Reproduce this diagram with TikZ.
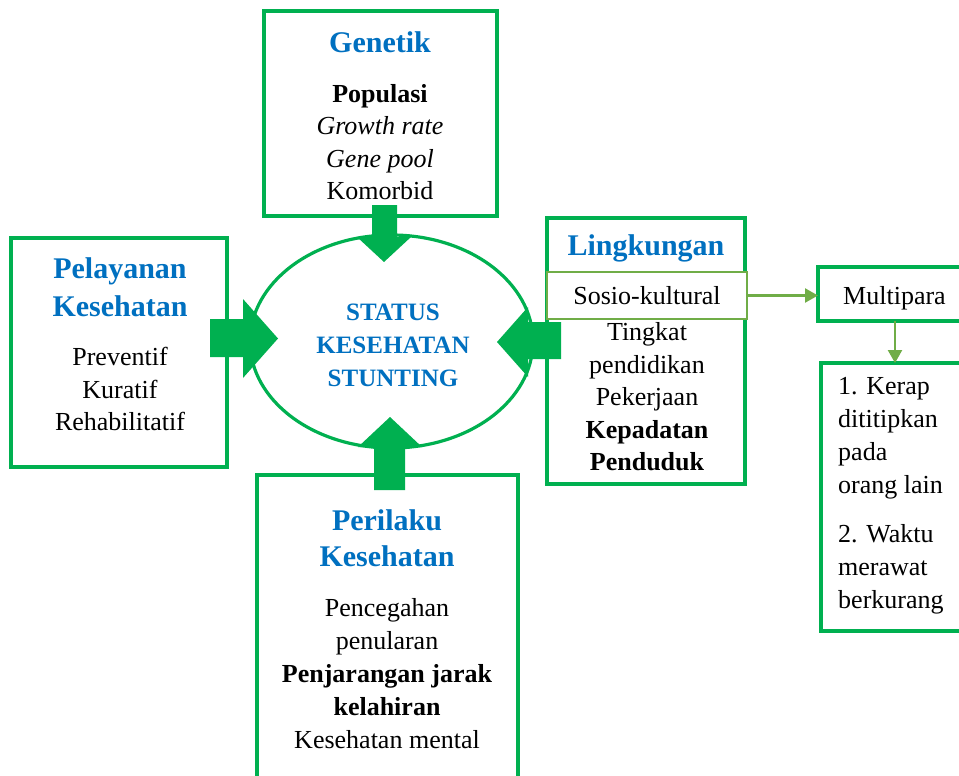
\documentclass[tikz,border=0pt]{standalone}
\usepackage{fontspec}
\setmainfont{Liberation Serif}
\usetikzlibrary{shapes.geometric,arrows.meta}
\definecolor{gbox}{HTML}{00B050}
\definecolor{lgreen}{HTML}{70AD47}
\definecolor{tblue}{HTML}{0070C0}
\begin{document}
\begin{tikzpicture}[x=1pt,y=-1pt,
  gframe/.style={draw=gbox,line width=3.2pt,fill=white},
  ttl/.style={text=tblue,font=\fontsize{30}{38}\selectfont\bfseries,align=center,inner sep=0pt},
  body/.style={font=\fontsize{26}{32.5}\selectfont,align=center,inner sep=0pt},
  blockarrow/.style={fill=gbox},
  lconn/.style={draw=lgreen,line width=2.4pt,-{Triangle[length=13pt,width=14pt]}}]
\useasboundingbox (0,0) rectangle (959,776);
\clip (0,0) rectangle (959,776);
\fill[white] (0,0) rectangle (959,776);

% boxes
\draw[gframe] (264,11) rectangle (497,216);
\coordinate (genS) at (384,216);
\draw[gframe] (11,238) rectangle (227,467);
\draw[gframe] (547,218) rectangle (745,484);
\draw[gframe] (257,475) rectangle (518,800);
\node[draw=lgreen,line width=1.6pt,fill=white,minimum width=200pt,minimum height=47pt,inner sep=0pt,font=\fontsize{26}{32}\selectfont] (sosio) at (647,295.5) {Sosio-kultural};
\draw[gframe] (818,267) rectangle (985,321);
\node[body] (multi) at (894.5,298) {Multipara};
\coordinate (multiS) at (895,321);
\draw[gframe] (821,363) rectangle (985,631);
\coordinate (listN) at (895,363);
\coordinate (multiW) at (818,295.5);

% ellipse
\node[ellipse,draw=gbox,line width=3.2pt,fill=white,minimum width=283pt,minimum height=213pt,inner sep=0pt] (status) at (391.5,341.5) {};
\node[text=tblue,font=\fontsize{25}{33}\selectfont\bfseries,align=center,inner sep=0pt] (statustxt) at (393,345) {STATUS\\KESEHATAN\\STUNTING};

% block arrows
\fill[blockarrow] (372,205) -- (397,205) -- (397,237) -- (411,237) -- (384,262) -- (357,237) -- (372,237) -- cycle;
\fill[blockarrow] (210,319) -- (243,319) -- (243,299) -- (278,338.5) -- (243,378) -- (243,357) -- (210,357) -- cycle;
\fill[blockarrow] (561,322) -- (528,322) -- (528,307) -- (497,342) -- (528,377) -- (528,359) -- (561,359) -- cycle;
\fill[blockarrow] (374,490) -- (405,490) -- (405,447) -- (422,447) -- (390,417) -- (358,447) -- (374,447) -- cycle;

% texts
\node[ttl] (gent) at (380,42) {Genetik};
\node[body] (genb) at (380,142) {\textbf{Populasi}\\\textit{Growth rate}\\\textit{Gene pool}\\Komorbid};
\node[ttl] (pelt) at (120,287) {Pelayanan\\Kesehatan};
\node[body] (pelb) at (120,389) {Preventif\\Kuratif\\Rehabilitatif};
\node[ttl] (lingt) at (646,248) {Lingkungan};
\node[body] (lingb) at (647,397) {Tingkat\\pendidikan\\Pekerjaan\\\textbf{Kepadatan}\\\textbf{Penduduk}};
\node[ttl,font=\fontsize{30}{36}\selectfont\bfseries] (pert) at (387,538) {Perilaku\\Kesehatan};
\node[body,font=\fontsize{26}{33}\selectfont] (perb) at (387,674) {Pencegahan\\penularan\\\textbf{Penjarangan jarak}\\\textbf{kelahiran}\\Kesehatan mental};
\node[body,align=left,anchor=west,font=\fontsize{26}{33}\selectfont] (list1) at (838,438.5) {1. Kerap\\dititipkan\\pada\\orang lain};
\node[body,align=left,anchor=west,font=\fontsize{26}{33}\selectfont] (list2) at (838,569.5) {2. Waktu\\merawat\\berkurang};

% connectors
\draw[lconn] (sosio.east) -- (multiW);
\draw[lconn] (multiS) -- (listN);
\end{tikzpicture}
\end{document}
